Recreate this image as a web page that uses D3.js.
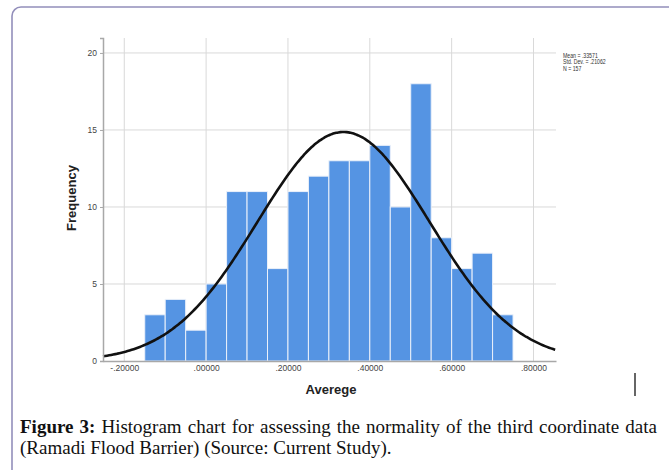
<!DOCTYPE html>
<html>
<head>
<meta charset="utf-8">
<script src="https://cdn.jsdelivr.net/npm/d3@7"></script>
<style>
  body { margin: 0; background: white; }
  svg { display: block; }
</style>
</head>
<body>
<script>
// histogram bins (lower edges) and their counts
var binStarts = [-0.15, -0.10, -0.05, 0.00, 0.05, 0.10, 0.15, 0.20, 0.25, 0.30, 0.35, 0.40, 0.45, 0.50, 0.55, 0.60, 0.65, 0.70]
var counts = [3, 4, 2, 5, 11, 11, 6, 11, 12, 13, 13, 14, 10, 18, 8, 6, 7, 3]
var binWidth = 0.05
var xTicks = [-0.2, 0, 0.2, 0.4, 0.6, 0.8]
var yTicks = [0, 5, 10, 15, 20]
var stats = ["Mean = .33571", "Std. Dev. = .21062", "N = 157"]
var mean = 0.33571, sd = 0.21062, n = 157

var W = 669, H = 470
var svg = d3.select("body").append("svg").attr("width", W).attr("height", H)

// outer frame of the figure box
svg.append("rect").attr("x", 12).attr("y", 7).attr("width", W + 20).attr("height", H + 20)
	.attr("rx", 9).attr("fill", "none").attr("stroke", "#938fbb").attr("stroke-width", 1.6)

var pLeft = 103, pRight = 556, pTop = 38, pBottom = 361
var x = d3.scaleLinear().domain([-0.252, 0.855]).range([pLeft, pRight])
var y = d3.scaleLinear().domain([0, 20.97]).range([pBottom, pTop])

var plot = svg.append("g")

// grid lines
plot.selectAll(".vgrid").data(xTicks).enter().append("line")
	.attr("x1", d => x(d)).attr("x2", d => x(d))
	.attr("y1", pTop).attr("y2", pBottom)
	.attr("stroke", "#d9d9d9").attr("stroke-width", 1)
plot.selectAll(".hgrid").data(yTicks.slice(1)).enter().append("line")
	.attr("x1", pLeft).attr("x2", pRight)
	.attr("y1", d => y(d)).attr("y2", d => y(d))
	.attr("stroke", "#d9d9d9").attr("stroke-width", 1)

// bars
plot.selectAll(".bar").data(counts).enter().append("rect")
	.attr("x", (d, i) => x(binStarts[i]))
	.attr("width", (d, i) => x(binStarts[i] + binWidth) - x(binStarts[i]))
	.attr("y", d => y(d))
	.attr("height", d => pBottom - y(d))
	.attr("fill", "#5594e3")
	.attr("stroke", "#eaf0fa").attr("stroke-width", 1)

// fitted normal curve
var curve = d3.range(x.domain()[0], x.domain()[1] + 0.0001, 0.005).map(function(v) {
	var f = n * binWidth / (sd * Math.sqrt(2 * Math.PI)) * Math.exp(-0.5 * Math.pow((v - mean) / sd, 2))
	return [v, f]
})
plot.append("path").datum(curve)
	.attr("d", d3.line().x(d => x(d[0])).y(d => y(d[1])).curve(d3.curveBasis))
	.attr("fill", "none").attr("stroke", "#111").attr("stroke-width", 2.6)

// axes
var yAxis = svg.append("g").attr("transform", "translate(" + pLeft + ",0)")
	.call(d3.axisLeft(y).tickValues(yTicks).tickSize(3).tickPadding(3).tickFormat(d3.format("d")))
var xAxis = svg.append("g").attr("transform", "translate(0," + pBottom + ")")
	.call(d3.axisBottom(x).tickValues(xTicks).tickSize(0).tickPadding(4)
		.tickFormat(d => d < 0 ? "-" + d3.format(".5f")(-d).slice(1) : d3.format(".5f")(d).slice(1)))
yAxis.select(".domain").attr("stroke", "#a8a8a8").attr("stroke-width", 1.5)
xAxis.select(".domain").attr("stroke", "#a8a8a8").attr("stroke-width", 1.5)
yAxis.selectAll(".tick line").attr("stroke", "#a8a8a8")
svg.selectAll(".tick text").attr("font-family", "Liberation Sans, Arial, sans-serif")
	.attr("font-size", 8.5).attr("fill", "#444")

// axis titles
svg.append("text").text("Frequency")
	.attr("transform", "translate(76,198) rotate(-90)")
	.attr("text-anchor", "middle")
	.attr("font-family", "Liberation Sans, Arial, sans-serif")
	.attr("font-size", 13).attr("font-weight", "bold").attr("fill", "#222")
svg.append("text").text("Averege")
	.attr("x", 331).attr("y", 394)
	.attr("text-anchor", "middle")
	.attr("font-family", "Liberation Sans, Arial, sans-serif")
	.attr("font-size", 13).attr("font-weight", "bold").attr("fill", "#222")

// stats box, narrow lettering like the original
var statG = svg.append("g").attr("transform", "translate(563,0) scale(0.8,1)")
statG.selectAll(".stat").data(stats).enter().append("text")
	.text(d => d)
	.attr("x", 0).attr("y", (d, i) => 58 + i * 6.5)
	.attr("font-family", "Liberation Sans, Arial, sans-serif")
	.attr("font-size", 6.5).attr("fill", "#333")

// little mark at the right below the chart
svg.append("rect").attr("x", 634).attr("y", 373).attr("width", 2).attr("height", 23).attr("fill", "#666")

// caption, justified on the first line
var capFont = "Liberation Serif, Times New Roman, serif"
var line1 = svg.append("text").attr("x", 20).attr("y", 433)
	.attr("font-family", capFont).attr("font-size", 19).attr("fill", "#111")
line1.append("tspan").attr("font-weight", "bold").text("Figure 3:")
line1.append("tspan").text(" Histogram chart for assessing the normality of the third coordinate data")
var len = line1.node().getComputedTextLength()
if (len < 637) {
	line1.attr("word-spacing", (637 - len) / 12)
} else {
	line1.attr("textLength", 637).attr("lengthAdjust", "spacing")
}

svg.append("text").attr("x", 20).attr("y", 454)
	.attr("font-family", capFont).attr("font-size", 19).attr("fill", "#111")
	.text("(Ramadi Flood Barrier) (Source: Current Study).")
</script>
</body>
</html>
